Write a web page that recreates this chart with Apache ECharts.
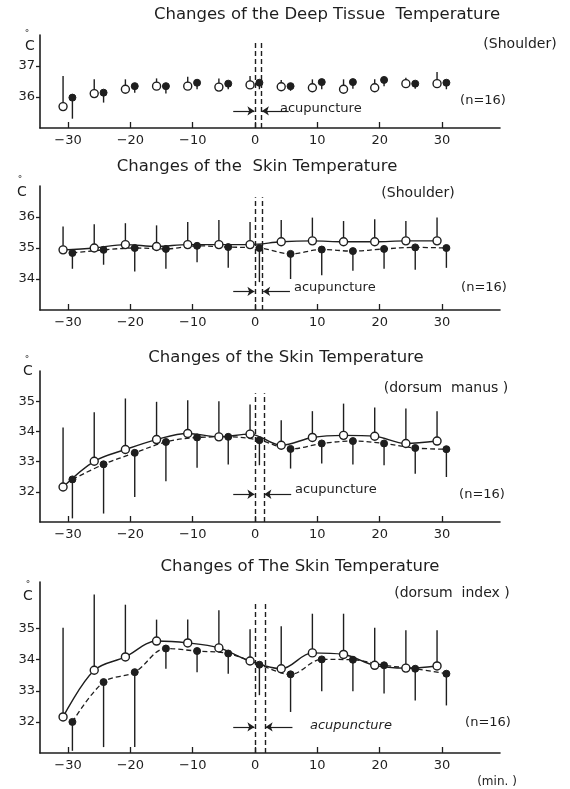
<!DOCTYPE html>
<html>
<head>
<meta charset="utf-8">
<script src="https://cdn.jsdelivr.net/npm/echarts@6/dist/echarts.min.js"></script>
<style>
  html, body { margin: 0; padding: 0; background: #fff; }
  #chart { width: 570px; height: 789px; }
</style>
</head>
<body>
<div id="chart"></div>
<script>
// sampling times (min.) relative to acupuncture
const minutes = [-30, -25, -20, -15, -10, -5, 0, 5, 10, 15, 20, 25, 30];
const xTicks = [-30, -20, -10, 0, 10, 20, 30];

// deep tissue, shoulder
const deepOpen = [35.69, 36.11, 36.25, 36.35, 36.35, 36.32, 36.39, 36.33, 36.30, 36.25, 36.30, 36.43, 36.43];
const deepOpenTop = [36.68, 36.57, 36.57, 36.60, 36.65, 36.60, 36.68, 36.55, 36.57, 36.57, 36.57, 36.62, 36.81];
const deepFilled = [35.98, 36.14, 36.35, 36.35, 36.46, 36.43, 36.46, 36.35, 36.48, 36.48, 36.55, 36.43, 36.46];
const deepFilledLow = [35.30, 35.82, 36.14, 36.11, 36.25, 36.25, 36.25, 36.20, 36.25, 36.27, 36.35, 36.27, 36.25];

// skin, shoulder
const shoulderOpen = [34.94, 35.00, 35.11, 35.05, 35.11, 35.11, 35.11, 35.20, 35.23, 35.20, 35.20, 35.23, 35.23];
const shoulderOpenTop = [35.69, 35.77, 35.80, 35.73, 35.84, 35.90, 35.84, 35.90, 35.98, 35.87, 35.93, 35.87, 35.98];
const shoulderFilled = [34.84, 34.94, 35.00, 34.97, 35.07, 35.03, 35.00, 34.81, 34.95, 34.90, 34.97, 35.02, 35.00];
const shoulderFilledLow = [34.33, 34.46, 34.24, 34.33, 34.54, 34.36, 33.90, 34.00, 34.12, 34.27, 34.33, 34.30, 34.36];

// skin, dorsum manus
const manusOpen = [32.16, 33.01, 33.40, 33.73, 33.93, 33.82, 33.91, 33.54, 33.80, 33.87, 33.84, 33.60, 33.68];
const manusOpenTop = [34.13, 34.63, 35.09, 34.98, 35.03, 35.00, 34.89, 34.37, 34.67, 34.92, 34.79, 34.76, 34.67];
const manusFilled = [32.41, 32.91, 33.29, 33.65, 33.80, 33.82, 33.71, 33.42, 33.60, 33.68, 33.60, 33.45, 33.41];
const manusFilledLow = [31.12, 31.28, 31.83, 32.35, 32.80, 32.90, 32.88, 32.77, 32.94, 32.90, 32.88, 32.60, 32.49];

// skin, dorsum index
const indexOpen = [32.16, 33.66, 34.09, 34.60, 34.54, 34.38, 33.96, 33.71, 34.22, 34.17, 33.82, 33.73, 33.80];
const indexOpenTop = [35.03, 36.10, 35.77, 35.29, 35.29, 35.59, 34.98, 35.08, 35.48, 35.48, 35.03, 34.95, 34.95];
const indexFilled = [32.00, 33.28, 33.60, 34.36, 34.28, 34.20, 33.84, 33.53, 34.01, 34.00, 33.82, 33.71, 33.55];
const indexFilledLow = [31.07, 31.19, 31.19, 33.71, 33.60, 33.55, 32.86, 32.32, 32.99, 32.99, 32.91, 32.69, 32.53];

// acupuncture window (min.) per panel
const acuEnd = [1.0, 1.2, 1.4, 1.6];

const ink = '#1e1e1e';
const font = 'DejaVu Sans';

const panels = [
  { open: deepOpen, openTop: deepOpenTop, filled: deepFilled, filledLow: deepFilledLow,
    yMin: 35, yMax: 38, yTicks: [36, 37], top: 35, height: 93, lines: false,
    dashTop: 37.76, arrowY: 35.55 },
  { open: shoulderOpen, openTop: shoulderOpenTop, filled: shoulderFilled, filledLow: shoulderFilledLow,
    yMin: 33, yMax: 37, yTicks: [34, 35, 36], top: 186, height: 124, lines: true,
    dashTop: 36.64, arrowY: 33.6 },
  { open: manusOpen, openTop: manusOpenTop, filled: manusFilled, filledLow: manusFilledLow,
    yMin: 31, yMax: 36, yTicks: [32, 33, 34, 35], top: 371, height: 151, lines: true,
    dashTop: 35.26, arrowY: 31.92 },
  { open: indexOpen, openTop: indexOpenTop, filled: indexFilled, filledLow: indexFilledLow,
    yMin: 31, yMax: 36.5, yTicks: [32, 33, 34, 35], top: 582, height: 171, lines: true,
    dashTop: 35.81, arrowY: 31.84 }
];

const openShift = -0.8;
const filledShift = 0.7;

const grid = [];
const xAxis = [];
const yAxis = [];
const series = [];

panels.forEach((p, i) => {
  grid.push({ left: 40, width: 460, top: p.top, height: p.height });

  xAxis.push({
    type: 'value', gridIndex: i, min: -34.5, max: 39.3,
    axisLine: { onZero: false, lineStyle: { color: ink, width: 1.6 } },
    axisTick: { inside: true, length: 6, customValues: xTicks, lineStyle: { color: ink, width: 1.3 } },
    axisLabel: {
      customValues: xTicks, color: ink, fontFamily: font, fontSize: 13, margin: 6,
      formatter: v => (v < 0 ? '\u2212' + (-v) : String(v))
    },
    splitLine: { show: false }
  });

  yAxis.push({
    type: 'value', gridIndex: i, min: p.yMin, max: p.yMax,
    axisLine: { show: true, onZero: false, lineStyle: { color: ink, width: 1.6 } },
    axisTick: { show: true, length: 4, customValues: p.yTicks, lineStyle: { color: ink, width: 1.3 } },
    axisLabel: { customValues: p.yTicks, color: ink, fontFamily: font, fontSize: 13, margin: 5 },
    splitLine: { show: false }
  });

  const bar = (means, ends, shift) => ({
    type: 'custom', xAxisIndex: i, yAxisIndex: i, z: 1, silent: true,
    data: minutes.map((m, k) => [m + shift, means[k], ends[k]]),
    encode: { x: 0, y: [1, 2] },
    renderItem: (params, api) => {
      const a = api.coord([api.value(0), api.value(1)]);
      const b = api.coord([api.value(0), api.value(2)]);
      return {
        type: 'line',
        shape: { x1: a[0], y1: a[1], x2: b[0], y2: b[1] },
        style: { stroke: ink, lineWidth: 1.4 }
      };
    }
  });

  series.push(bar(p.open, p.openTop, openShift));
  series.push(bar(p.filled, p.filledLow, filledShift));

  const ax = acuEnd[i];
  const dash = { color: ink, type: [5, 3], width: 1.4 };
  const arrow = { color: ink, type: 'solid', width: 1.2 };

  series.push({
    type: 'line', xAxisIndex: i, yAxisIndex: i, z: 3,
    data: minutes.map((m, k) => [m + openShift, p.open[k]]),
    symbol: 'circle', symbolSize: 8, showSymbol: true,
    itemStyle: { color: '#fff', borderColor: ink, borderWidth: 1.4 },
    lineStyle: { color: ink, width: p.lines ? 1.4 : 0 },
    smooth: 0.35, animation: false, silent: true,
    markLine: {
      silent: true, symbol: 'none', animation: false,
      label: { show: false },
      emphasis: { disabled: true },
      data: [
        [{ coord: [0, p.yMin], lineStyle: dash }, { coord: [0, p.dashTop] }],
        [{ coord: [ax, p.yMin], lineStyle: dash }, { coord: [ax, p.dashTop] }],
        [{ coord: [-3.5, p.arrowY], lineStyle: arrow, symbol: 'none' },
         { coord: [-0.1, p.arrowY], symbol: 'arrow', symbolSize: 7 }],
        [{ coord: [ax + 4.4, p.arrowY], lineStyle: arrow, symbol: 'none' },
         { coord: [ax + 0.1, p.arrowY], symbol: 'arrow', symbolSize: 7 }]
      ]
    }
  });

  series.push({
    type: 'line', xAxisIndex: i, yAxisIndex: i, z: 3,
    data: minutes.map((m, k) => [m + filledShift, p.filled[k]]),
    symbol: 'circle', symbolSize: 7, showSymbol: true,
    itemStyle: { color: ink, borderColor: ink },
    lineStyle: { color: ink, width: p.lines ? 1.3 : 0, type: [5, 3] },
    smooth: 0.35, animation: false, silent: true
  });
});

const txt = (text, x, y, size, align, extra) => ({
  type: 'text', x: x, y: y, silent: true,
  style: Object.assign({
    text: text, fill: ink, font: size + 'px "' + font + '"',
    textAlign: align || 'left', textVerticalAlign: 'middle'
  }, extra || {})
});

const graphic = [
  txt('Changes of the Deep Tissue  Temperature', 327, 15, 16.5, 'center'),
  txt('(Shoulder)', 520, 44, 14, 'center'),
  txt('(n=16)', 483, 101, 13, 'center'),
  txt('acupuncture', 280, 109, 13),
  txt('\u00b0', 27, 34, 9, 'center'),
  txt('C', 30, 46, 14, 'center'),

  txt('Changes of the  Skin Temperature', 257, 167, 16.5, 'center'),
  txt('(Shoulder)', 418, 193, 14, 'center'),
  txt('(n=16)', 484, 288, 13, 'center'),
  txt('acupuncture', 294, 288, 13),
  txt('\u00b0', 20, 180, 9, 'center'),
  txt('C', 22, 192, 14, 'center'),

  txt('Changes of the Skin Temperature', 286, 358, 16.5, 'center'),
  txt('(dorsum  manus )', 446, 388, 14, 'center'),
  txt('(n=16)', 482, 495, 13, 'center'),
  txt('acupuncture', 295, 490, 13),
  txt('\u00b0', 27, 360, 9, 'center'),
  txt('C', 28, 371, 14, 'center'),

  txt('Changes of The Skin Temperature', 300, 567, 16.5, 'center'),
  txt('(dorsum  index )', 452, 593, 14, 'center'),
  txt('(n=16)', 488, 723, 13, 'center'),
  txt('acupuncture', 310, 726, 13, 'left', { font: 'italic 13px "' + font + '"' }),
  txt('\u00b0', 28, 585, 9, 'center'),
  txt('C', 28, 596, 14, 'center'),
  txt('(min. )', 497, 782, 12, 'center')
];

const chart = echarts.init(document.getElementById('chart'), null, { renderer: 'canvas' });
chart.setOption({
  backgroundColor: '#fff',
  animation: false,
  grid: grid,
  xAxis: xAxis,
  yAxis: yAxis,
  series: series,
  graphic: graphic
});
</script>
</body>
</html>
